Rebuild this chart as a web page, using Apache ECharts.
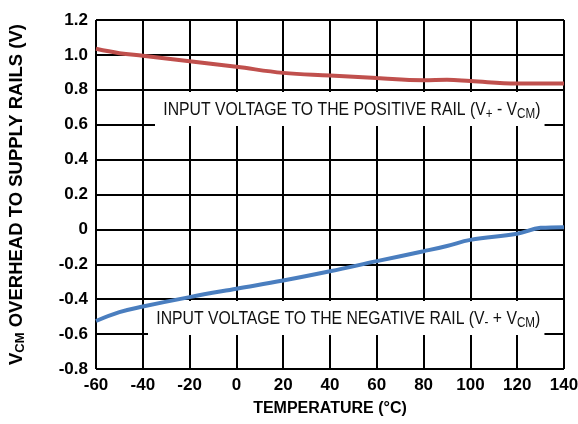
<!DOCTYPE html>
<html>
<head>
<meta charset="utf-8">
<script src="https://cdn.jsdelivr.net/npm/echarts@6/dist/echarts.min.js"></script>
<style>
  html, body { margin: 0; padding: 0; background: #fff; }
  #chart { width: 578px; height: 424px; }
</style>
</head>
<body>
<div id="chart"></div>
<script>
// temperature (°C)
const temps = [-60, -50, -40, -20, 0, 20, 40, 60, 80, 90, 100, 120, 130, 140];
// overhead to positive rail (V+ - VCM)
const positiveRail = [1.035, 1.01, 0.995, 0.964, 0.932, 0.897, 0.882, 0.867, 0.855, 0.857, 0.85, 0.836, 0.836, 0.836];
// overhead to negative rail (V- + VCM)
const negativeRail = [-0.525, -0.474, -0.442, -0.388, -0.34, -0.293, -0.24, -0.182, -0.125, -0.095, -0.06, -0.025, 0.009, 0.013];

const chart = echarts.init(document.getElementById('chart'));

const boldFont = "'Liberation Sans', Arial, sans-serif";
const labelRich = {
  n: { fontSize: 19, fontFamily: boldFont, fill: '#111' },
  sub: { fontSize: 14, fontFamily: boldFont, fill: '#111', padding: [9, 0, 0, 0] },
};

const option = {
  animation: false,
  grid: { left: 96, right: 14, top: 20, bottom: 55, outerBoundsMode: 'none' },
  xAxis: {
    type: 'value',
    min: -60,
    max: 140,
    interval: 20,
    name: 'TEMPERATURE (°C)',
    nameLocation: 'middle',
    nameGap: 32,
    nameTextStyle: { fontSize: 16, fontWeight: 'bold', color: '#000', fontFamily: boldFont },
    axisLine: { lineStyle: { color: '#000', width: 2 } },
    axisTick: { show: false },
    axisLabel: { fontSize: 17, fontWeight: 'bold', color: '#000', margin: 8, fontFamily: boldFont },
    splitLine: { lineStyle: { color: '#000', width: 2 } },
  },
  yAxis: {
    type: 'value',
    min: -0.8,
    max: 1.2,
    interval: 0.2,
    name: '{b|V}{s|CM}{b| OVERHEAD TO SUPPLY RAILS (V)}',
    nameLocation: 'middle',
    nameGap: 69,
    nameRotate: 90,
    nameTextStyle: {
      color: '#000',
      rich: {
        b: { fontSize: 18.5, fontWeight: 'bold', fontFamily: boldFont, color: '#000' },
        s: { fontSize: 13, fontWeight: 'bold', fontFamily: boldFont, color: '#000', padding: [8, 0, 0, 0] },
      },
    },
    axisLine: { show: true, lineStyle: { color: '#000', width: 2 } },
    axisTick: { show: false },
    axisLabel: {
      fontSize: 17, fontWeight: 'bold', color: '#000', margin: 8, fontFamily: boldFont,
      formatter: (v) => (Math.abs(v) < 1e-9 ? '0' : v.toFixed(1)),
    },
    splitLine: { lineStyle: { color: '#000', width: 2 } },
  },
  series: [
    {
      type: 'line',
      data: temps.map((t, i) => [t, positiveRail[i]]),
      smooth: 0.4,
      symbol: 'none',
      lineStyle: { color: '#c0504d', width: 4 },
      z: 5,
    },
    {
      type: 'line',
      data: temps.map((t, i) => [t, negativeRail[i]]),
      smooth: 0.4,
      symbol: 'none',
      lineStyle: { color: '#4a7ebf', width: 4 },
      z: 5,
    },
  ],
  graphic: [
    {
      type: 'text',
      x: 155,
      y: 92,
      scaleX: 0.83,
      z: 3,
      style: {
        text: '{n|INPUT VOLTAGE TO THE POSITIVE RAIL (V}{sub|+}{n| - V}{sub|CM}{n|)}',
        rich: labelRich,
        backgroundColor: '#fff',
        padding: [6, 5, 5, 10],
      },
    },
    {
      type: 'text',
      x: 148,
      y: 301,
      scaleX: 0.83,
      z: 3,
      style: {
        text: '{n|INPUT VOLTAGE TO THE NEGATIVE RAIL (V}{sub|-}{n| + V}{sub|CM}{n|)}',
        rich: labelRich,
        backgroundColor: '#fff',
        padding: [6, 5, 5, 10],
      },
    },
  ],
};

chart.setOption(option);
</script>
</body>
</html>
